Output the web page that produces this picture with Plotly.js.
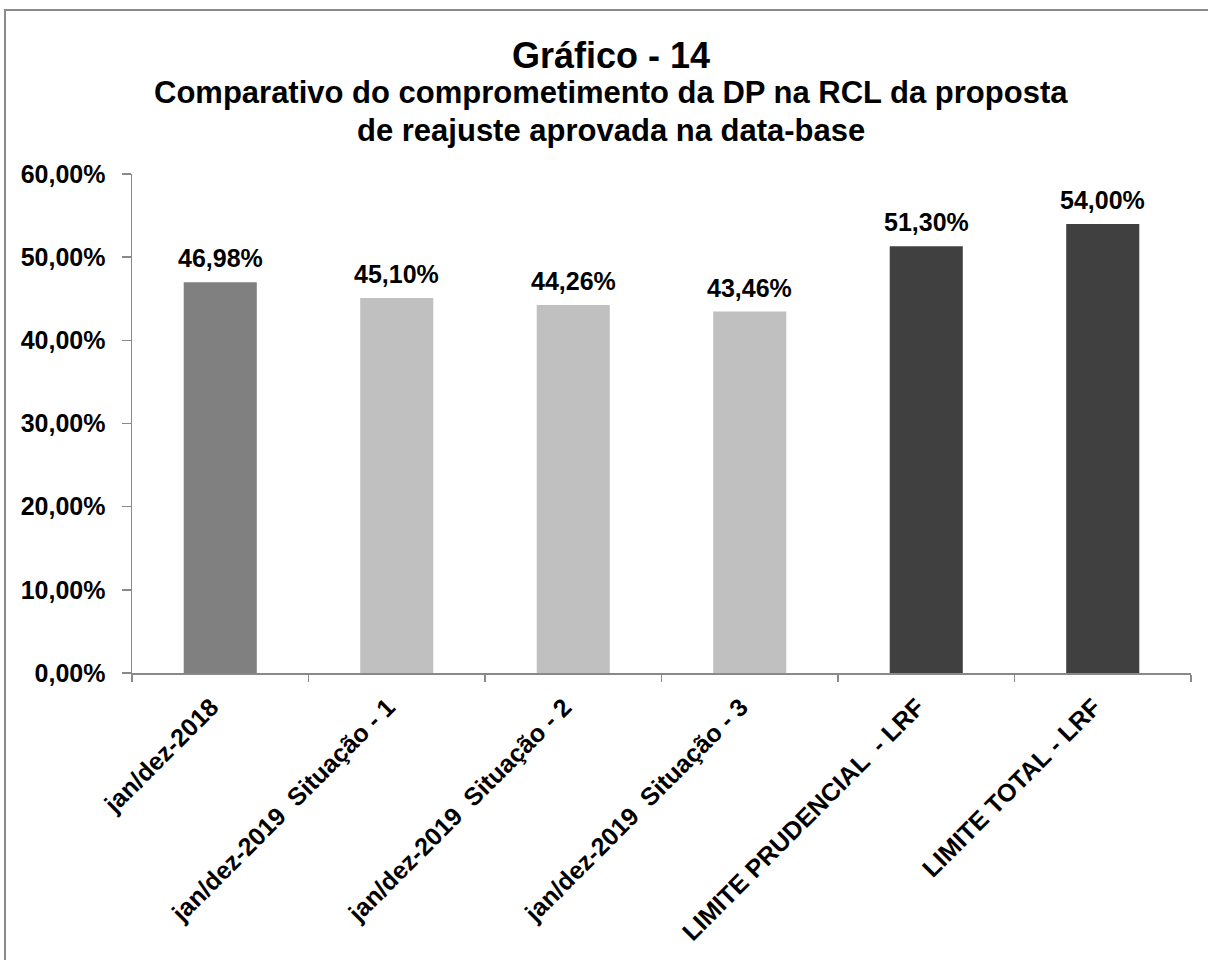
<!DOCTYPE html>
<html>
<head>
<meta charset="utf-8">
<script src="https://cdn.plot.ly/plotly-3.0.1.min.js"></script>
<style>
  html, body { margin: 0; padding: 0; background: #ffffff; overflow: hidden; }
  #wrap { position: relative; width: 1208px; height: 960px; overflow: hidden; }
  #chart { width: 1208px; height: 960px; }
  #frame {
    position: absolute; left: 4px; top: 9px; width: 1400px; height: 1200px;
    border-left: 2px solid #8a8a8a; border-top: 2px solid #8a8a8a;
    pointer-events: none; background: transparent;
  }
</style>
</head>
<body>
<div id="wrap">
  <div id="chart"></div>
  <div id="frame"></div>
</div>
<script>
// ---- data ----
const categories = [
  "jan/dez-2018",
  "jan/dez-2019 \u00a0Situação - 1",
  "jan/dez-2019 \u00a0Situação - 2",
  "jan/dez-2019 \u00a0Situação - 3",
  "LIMITE PRUDENCIAL \u00a0- LRF",
  "LIMITE TOTAL - LRF"
];
const values = [46.98, 45.10, 44.26, 43.46, 51.30, 54.00];
const valueLabels = ["46,98%", "45,10%", "44,26%", "43,46%", "51,30%", "54,00%"];
const barColors = ["#808080", "#c0c0c0", "#c0c0c0", "#c0c0c0", "#404040", "#404040"];
const yTickVals = [0, 10, 20, 30, 40, 50, 60];
const yTickText = ["0,00%", "10,00%", "20,00%", "30,00%", "40,00%", "50,00%", "60,00%"];
const titleText = "Gráfico - 14";
const subtitleLines = [
  "Comparativo do comprometimento da DP na RCL da proposta",
  "de reajuste aprovada na data-base"
];

const FONT = "Liberation Sans, Arial, Helvetica, sans-serif";
const AXIS_COLOR = "#898989";

const trace = {
  type: "bar",
  x: categories,
  y: values,
  marker: { color: barColors, line: { width: 0 } },
  hoverinfo: "none",
  showlegend: false
};

const annotations = categories.map((c, i) => ({
  x: c, y: values[i], xref: "x", yref: "y",
  text: "<b>" + valueLabels[i] + "</b>",
  showarrow: false, xanchor: "center", yanchor: "bottom", yshift: 8,
  font: { family: FONT, size: 25, color: "#000000" }
}));

const subY = [1.1643, 1.0862];
subtitleLines.forEach((t, i) => {
  annotations.push({
    xref: "paper", yref: "paper", x: 0.4525, y: subY[i],
    xanchor: "center", yanchor: "middle", showarrow: false,
    text: "<b>" + t + "</b>",
    font: { family: FONT, size: 31, color: "#000000" }
  });
});

const layout = {
  width: 1208, height: 960,
  margin: { l: 132, r: 17, t: 174, b: 287, pad: 0 },
  paper_bgcolor: "#ffffff",
  plot_bgcolor: "#ffffff",
  bargap: 0.586,
  title: {
    text: "<b>" + titleText + "</b>",
    x: 0.5058, xanchor: "center",
    y: 0.9427, yanchor: "middle",
    font: { family: FONT, size: 36, color: "#000000" }
  },
  xaxis: {
    type: "category",
    tickangle: -45,
    tickson: "boundaries",
    ticks: "outside", ticklen: 7, tickwidth: 1.5, tickcolor: AXIS_COLOR,
    ticklabelshift: -9,
    ticklabelstandoff: 8,
    showline: true, linecolor: AXIS_COLOR, linewidth: 1.5,
    showgrid: false, zeroline: false,
    tickfont: { family: FONT, size: 25, color: "#000000", weight: "bold" },
    automargin: false
  },
  yaxis: {
    range: [0, 60],
    tickvals: yTickVals, ticktext: yTickText,
    ticks: "outside", ticklen: 9, tickwidth: 1.5, tickcolor: AXIS_COLOR,
    ticklabelstandoff: 11,
    showline: true, linecolor: AXIS_COLOR, linewidth: 1.5,
    showgrid: false, zeroline: false,
    tickfont: { family: FONT, size: 25, color: "#000000", weight: "bold" },
    automargin: false
  },
  annotations: annotations
};

Plotly.newPlot("chart", [trace], layout, { displayModeBar: false, staticPlot: true });
</script>
</body>
</html>
